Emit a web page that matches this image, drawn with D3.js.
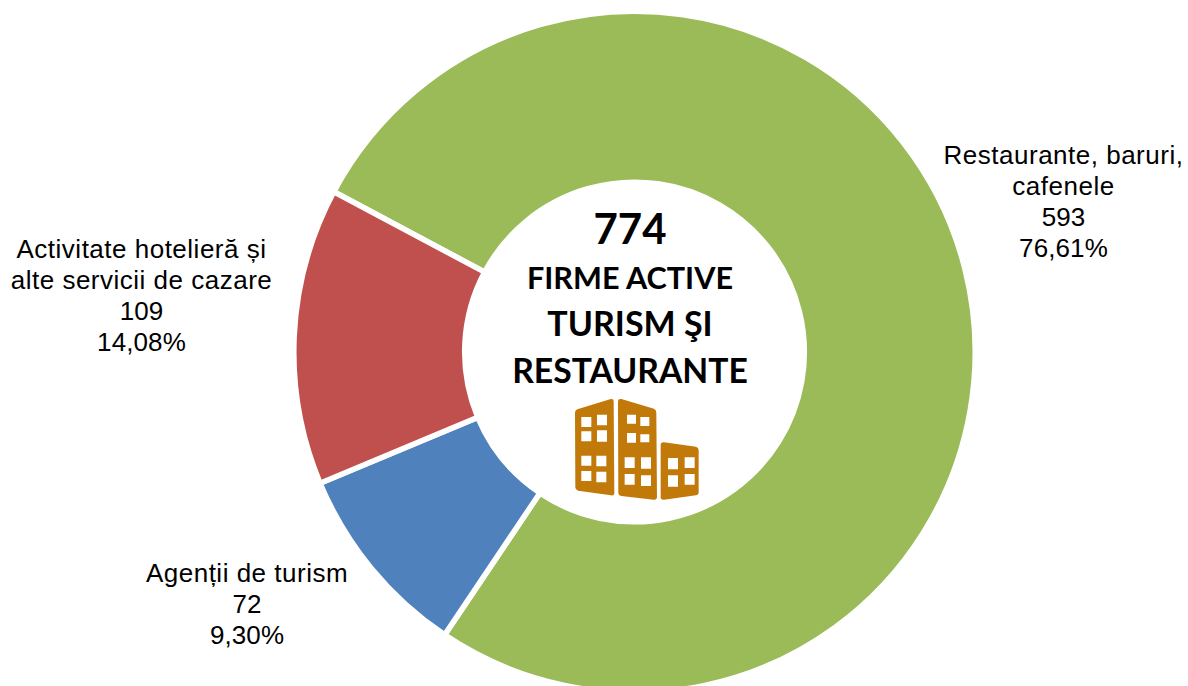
<!DOCTYPE html>
<html><head><meta charset="utf-8">
<script src="https://cdn.jsdelivr.net/npm/d3@7"></script>
<style>html,body{margin:0;padding:0;background:#fff}svg{display:block}</style>
</head><body><svg id="c" width="1188" height="686"></svg>
<script>
const categories=["Restaurante, baruri, cafenele","Agenții de turism","Activitate hotelieră și alte servicii de cazare"];
const values=[593,72,109];
const percents=["76,61%","9,30%","14,08%"];
const colors=["#9BBB59","#4F81BD","#C0504D"];
const labelLines=[["Restaurante, baruri,","cafenele"],["Agenții de turism"],["Activitate hotelieră și","alte servicii de cazare"]];
const labelPos=[[1063.5,164],[247,582],[141.5,258]];
const centerLines=[["774",42,244],["FIRME ACTIVE",30.6,289],["TURISM ŞI",34,336],["RESTAURANTE",33.7,383]];
const cx=634.5,cy=352,R=340.7,r=169.8;
const svg=d3.select("#c");
const start=298.05*Math.PI/180;
const pie=d3.pie().sort(null).startAngle(start).endAngle(start+2*Math.PI);
const arc=d3.arc().innerRadius(r).outerRadius(R);
const g=svg.append("g").attr("transform",`translate(${cx},${cy})`);
g.selectAll("path").data(pie(values)).join("path").attr("d",arc)
 .attr("fill",(d,i)=>colors[i]).attr("stroke","#fff").attr("stroke-width",5.5);
const lh=31;
labelLines.forEach((ls,i)=>{
  const lines=[...ls,String(values[i]),percents[i]];
  const t=svg.append("text").attr("text-anchor","middle").attr("font-family","'Liberation Sans',Arial,sans-serif")
    .attr("font-size",26).attr("fill","#000");
  lines.forEach((s,j)=>t.append("tspan").attr("x",labelPos[i][0]).attr("y",labelPos[i][1]+j*lh)
    .attr("letter-spacing",j<ls.length?0.5:0.1).text(s));
});
svg.selectAll("text.c").data(centerLines).join("text").attr("class","c")
 .attr("x",630).attr("y",d=>d[2]).attr("text-anchor","middle")
 .attr("font-family","Lato,sans-serif").attr("font-weight",700).attr("font-size",d=>d[1]).attr("fill","#000").text(d=>d[0]);
// icon (decorative), drawn in the coordinates of its zoomed source
const rect=(x,y,w,h)=>`M${x} ${y}h${w}v${h}h${-w}Z`;
const bodies=[
 "M52 58L150 28Q161 25 161 34L163 308Q163 318 153 316L54 302Q46 300 46 292L45 68Q45 60 52 58Z",
 "M184 27L282 56Q289 59 289 68L291 320Q291 330 281 329L184 318Q175 316 175 308L174 34Q174 25 184 27Z",
 "M312 157L408 170Q416 172 416 180L416 308Q416 315 408 316L312 329Q302 330 302 322L302 166Q302 156 312 157Z"];
const wins=[[64,81,30,30],[111,74,30,32],[64,124,30,30],[111,121,30,34],[64,197,30,30],[109,197,30,32],[64,243,30,30],[109,245,30,32],
 [201,74,27,27],[241,81,27,27],[201,129,27,29],[241,133,27,24],[194,202,30,32],[243,202,30,34],[194,252,30,32],[243,256,30,32],
 [324,204,30,34],[374,202,30,32],[324,256,30,34],[374,252,30,32]];
const ic=svg.append("g").attr("transform","translate(560,390) scale(0.3333)");
ic.append("path").attr("fill","#C17A0A").attr("fill-rule","evenodd")
 .attr("d",bodies.join("")+wins.map(w=>rect(...w)).join(""));
</script></body></html>
